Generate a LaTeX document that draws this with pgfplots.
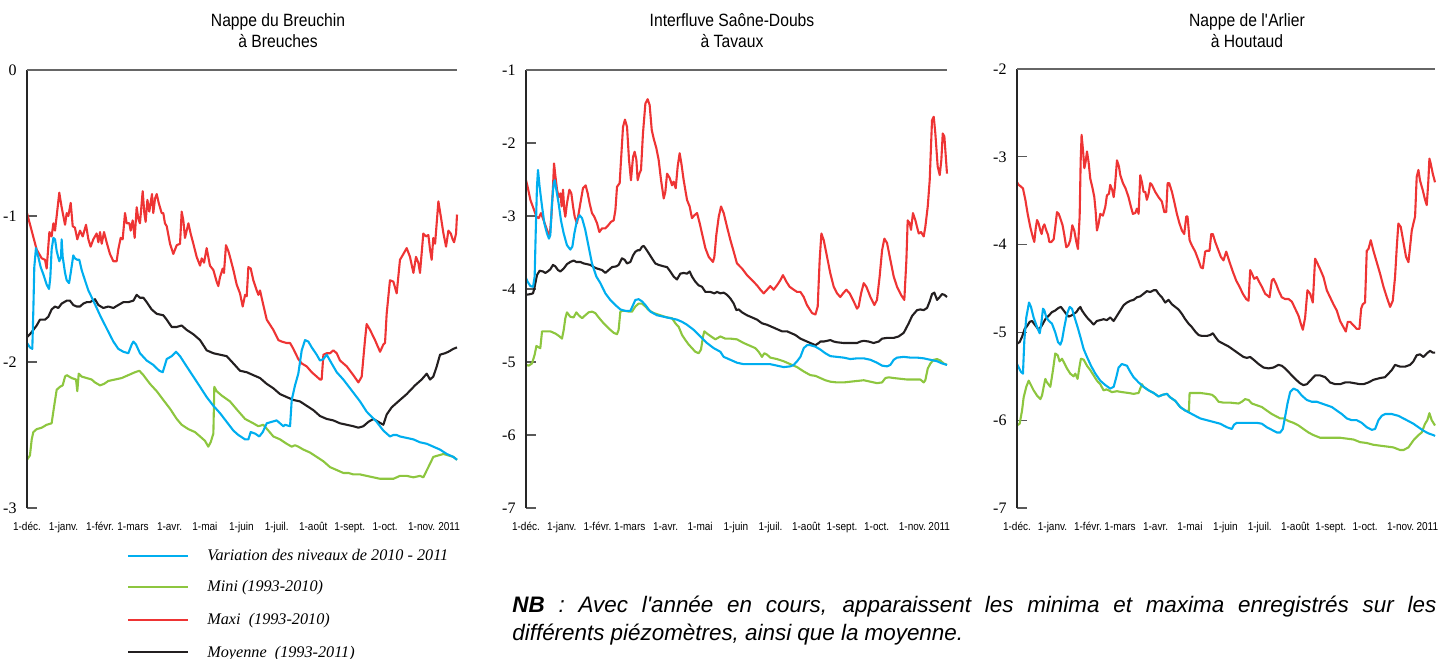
\documentclass[border=0pt]{standalone}
\usepackage{pgfplots}
\pgfplotsset{compat=1.18}
\usepackage{fontspec}
\setmainfont{Liberation Sans}
\newfontfamily\condsans[FakeStretch=0.88]{Liberation Sans}
\newfontfamily\tnr{Liberation Serif}

\definecolor{cblue}{RGB}{0,174,239}
\definecolor{cgreen}{RGB}{141,198,63}
\definecolor{cred}{RGB}{238,52,52}
\definecolor{cblack}{RGB}{35,31,32}

% one style for the three piezometer panels (x = days from 1 Dec 2010)
\pgfplotsset{
  piezo/.style={
    scale only axis, height=219pt,
    xmin=0, xmax=365,
    clip=false,
    axis line style={draw=none},
    tick align=inside, ytick pos=left,
    major tick length=5pt,
    xtick style={draw=none},
    ytick style={draw=black!65, line width=0.6pt},
    xtick={0,31,62,90,121,151,182,212,243,274,304,335},
    xticklabels={1-déc.,1-janv.,1-févr.,1-mars,1-avr.,1-mai,1-juin,1-juil.,1-août,1-sept.,1-oct.,1-nov.},
    extra x ticks={358.3}, extra x tick labels={2011},
    extra x tick style={tick style={draw=none}},
    xticklabel style={font=\condsans\fontsize{5.7}{6}\selectfont, anchor=base, yshift=-11.3pt},
    yticklabel style={font=\tnr\fontsize{8}{9}\selectfont, anchor=east, xshift=-1.7pt},
    every axis plot/.append style={line width=1.05pt, line join=round},
  },
}
\newcommand{\framelines}{%
  \draw[black!85, line width=0.8pt] (rel axis cs:0,0) -- (rel axis cs:0,1);
  \draw[black!60, line width=0.7pt] (rel axis cs:0,1) -- (rel axis cs:1,1);}

\begin{document}
\begin{tikzpicture}
\useasboundingbox (0,0) rectangle (719.5pt,329pt);

% ---------- Nappe du Breuchin ----------
\begin{axis}[piezo, width=215pt, at={(13.5pt,294pt)}, anchor=north west,
  ymin=-3, ymax=0, ytick={-3,-2,-1,0}, yticklabels={-3,-2,-1,0}]
\addplot[cgreen] coordinates {
(0,-2.67) (2.5,-2.64) (4,-2.53) (5.4,-2.48) (8.2,-2.46) (12.5,-2.45) (16.7,-2.43) (20.9,-2.42) (22.9,-2.31) (25.2,-2.19) (28,-2.17) (30.3,-2.16) (32.3,-2.10) (33.7,-2.09) (37.9,-2.11) (41.6,-2.12) (42.7,-2.20) (43.9,-2.08) (46.4,-2.10) (50.7,-2.11) (54.9,-2.12) (57.7,-2.14) (62,-2.16) (65.4,-2.15) (69,-2.13) (74.7,-2.12) (80.4,-2.11) (86,-2.09) (91.7,-2.07) (95.4,-2.06) (98.8,-2.09) (104.4,-2.15) (110.1,-2.20) (115.7,-2.26) (121.4,-2.32) (127.1,-2.39) (131.3,-2.43) (137,-2.46) (142.6,-2.48) (146.9,-2.51) (151.1,-2.54) (153.9,-2.58) (155.9,-2.55) (158.2,-2.49) (159,-2.17) (161,-2.20) (165.3,-2.23) (172.3,-2.27) (178.6,-2.33) (185.1,-2.39) (192.1,-2.42) (196.4,-2.44) (200.6,-2.43) (204.9,-2.47) (209.1,-2.51) (214.8,-2.53) (220.4,-2.56) (224.7,-2.58) (227.5,-2.57) (230.3,-2.58) (234.6,-2.60) (240.2,-2.62) (245.9,-2.65) (251.6,-2.68) (257.2,-2.72) (262.9,-2.74) (268.5,-2.76) (272.8,-2.76) (277,-2.77) (282.7,-2.77) (288.3,-2.78) (294,-2.79) (299.7,-2.80) (305.3,-2.80) (311,-2.80) (316.6,-2.78) (322.3,-2.78) (328,-2.79) (333.6,-2.78) (336.4,-2.79) (340.7,-2.72) (344.9,-2.65) (349.2,-2.64) (353.5,-2.63) (357.7,-2.64) (361.9,-2.65) (365,-2.67)
};
\addplot[cred] coordinates {
(0,-0.98) (8.2,-1.23) (12.5,-1.29) (15.3,-1.30) (16.7,-1.36) (19,-1.11) (20.9,-1.14) (22.4,-1.05) (23.8,-1.10) (27.4,-0.84) (29.4,-0.94) (32.3,-1.06) (33.7,-0.98) (35.1,-1.00) (37.1,-0.91) (38.8,-1.07) (40.7,-1.08) (42.7,-1.16) (45,-1.10) (47.3,-1.14) (50.1,-1.06) (52.1,-1.16) (54,-1.21) (56.3,-1.16) (59.1,-1.12) (60.6,-1.18) (62,-1.11) (63.4,-1.19) (65.4,-1.11) (67.6,-1.18) (70.4,-1.26) (73.3,-1.31) (76.1,-1.31) (77.5,-1.23) (79.5,-1.15) (81.2,-1.16) (83.2,-0.98) (84.6,-1.05) (86.9,-1.05) (88,-1.10) (89.7,-1.03) (91.4,-1.15) (93.1,-0.94) (94.5,-1.02) (95.9,-1.05) (98.2,-0.83) (99.6,-0.98) (100.7,-1.04) (102.2,-0.89) (103.8,-0.97) (106.1,-0.85) (107.2,-0.98) (108.7,-0.88) (110.1,-0.85) (111.8,-0.91) (114.3,-0.98) (115.7,-0.98) (117.1,-1.05) (118.6,-1.07) (121.4,-1.19) (124.2,-1.26) (127.1,-1.20) (129.9,-1.19) (131.3,-0.97) (132.7,-1.03) (134.1,-1.15) (137,-1.05) (138.9,-1.12) (141.2,-1.19) (144,-1.28) (146.9,-1.34) (148.3,-1.29) (150.3,-1.32) (152.5,-1.22) (153.9,-1.28) (155.3,-1.34) (158.2,-1.37) (161,-1.45) (162.4,-1.48) (163.8,-1.42) (166.1,-1.36) (167.2,-1.39) (168.9,-1.20) (170.9,-1.24) (172.3,-1.28) (175.2,-1.37) (178,-1.47) (180.8,-1.53) (183.1,-1.62) (185.1,-1.54) (186.5,-1.55) (187.9,-1.35) (189.9,-1.36) (192.1,-1.44) (195,-1.51) (196.4,-1.54) (197.8,-1.51) (200.6,-1.61) (203.5,-1.71) (209.1,-1.78) (213.4,-1.85) (216.2,-1.86) (220.4,-1.87) (223.3,-1.87) (226.1,-1.91) (230.3,-1.98) (233.2,-2.01) (237.4,-2.03) (241.7,-2.07) (244.5,-2.09) (248.7,-2.12) (250.1,-2.12) (251.6,-1.95) (254.4,-1.94) (257.2,-1.94) (260,-1.92) (262.9,-1.94) (265.7,-1.99) (271.4,-2.03) (277,-2.09) (281.3,-2.14) (284.1,-2.10) (286.9,-1.85) (288.3,-1.74) (291.2,-1.78) (295.4,-1.85) (299.7,-1.93) (302.5,-1.88) (303.9,-1.87) (305.3,-1.67) (308.1,-1.44) (311,-1.45) (313.8,-1.53) (316.6,-1.30) (319.5,-1.26) (322.3,-1.22) (325.1,-1.28) (328,-1.39) (330.2,-1.28) (332.2,-1.32) (333.6,-1.39) (336.4,-1.12) (338.7,-1.14) (340.7,-1.13) (342.1,-1.23) (343.5,-1.30) (344.9,-1.15) (346.4,-1.19) (349.2,-0.90) (351.2,-1.00) (353.5,-1.12) (355.7,-1.21) (357.7,-1.10) (359.7,-1.12) (361.3,-1.16) (362.5,-1.18) (364.2,-1.12) (365,-0.99)
};
\addplot[cblack] coordinates {
(0,-1.83) (2.5,-1.81) (5.4,-1.78) (8.2,-1.75) (11,-1.71) (15.3,-1.71) (18.1,-1.69) (20.9,-1.64) (23.8,-1.62) (26.6,-1.63) (29.4,-1.60) (33.7,-1.58) (36.5,-1.58) (39.3,-1.61) (42.2,-1.62) (45,-1.62) (47.8,-1.60) (50.7,-1.59) (53.5,-1.59) (57.7,-1.57) (60.6,-1.61) (64.8,-1.63) (69,-1.62) (73.3,-1.63) (77.5,-1.61) (81.8,-1.59) (86,-1.59) (90.3,-1.58) (93.1,-1.54) (95.9,-1.56) (98.8,-1.56) (101.6,-1.59) (105.8,-1.64) (110.1,-1.67) (115.7,-1.68) (118.6,-1.71) (122.8,-1.76) (127.1,-1.76) (131.3,-1.75) (135.5,-1.78) (141.2,-1.81) (146.9,-1.85) (152.5,-1.92) (158.2,-1.94) (163.8,-1.95) (169.5,-1.96) (175.2,-2.01) (180.8,-2.06) (186.5,-2.07) (192.1,-2.09) (197.8,-2.11) (203.5,-2.15) (209.1,-2.18) (214.8,-2.22) (220.4,-2.24) (226.1,-2.26) (231.7,-2.27) (237.4,-2.30) (243.1,-2.33) (248.7,-2.37) (254.4,-2.39) (260,-2.40) (265.7,-2.42) (271.4,-2.43) (277,-2.44) (281.3,-2.45) (285.5,-2.44) (289.8,-2.41) (294,-2.39) (298.2,-2.41) (302.5,-2.43) (305.3,-2.36) (309.6,-2.31) (316.6,-2.26) (322.3,-2.22) (329.4,-2.16) (335,-2.12) (339.3,-2.08) (342.1,-2.12) (344.9,-2.10) (347.8,-2.03) (350.6,-1.95) (354.8,-1.94) (357.7,-1.93) (361.9,-1.91) (365,-1.90)
};
\addplot[cblue] coordinates {
(0,-1.87) (2.5,-1.90) (4.5,-1.91) (5.4,-1.64) (6.2,-1.35) (7.6,-1.22) (9.6,-1.28) (11.6,-1.35) (13.9,-1.40) (16.7,-1.47) (18.7,-1.50) (19.8,-1.42) (20.9,-1.23) (22.4,-1.15) (23.8,-1.16) (25.2,-1.24) (27.4,-1.31) (28.9,-1.28) (29.4,-1.16) (30.3,-1.28) (32.3,-1.39) (33.7,-1.44) (35.7,-1.46) (37.1,-1.39) (39.3,-1.27) (40.7,-1.29) (42.7,-1.30) (44.4,-1.30) (46.4,-1.37) (49.2,-1.44) (52.1,-1.51) (56.3,-1.58) (62,-1.68) (67.6,-1.77) (73.3,-1.86) (77.5,-1.91) (81.8,-1.93) (86,-1.94) (88.9,-1.88) (90.3,-1.86) (92.5,-1.88) (95.9,-1.94) (101.6,-1.99) (107.2,-2.02) (112.3,-2.06) (115.2,-2.07) (117.1,-2.02) (118.6,-1.98) (122.8,-1.96) (126.5,-1.93) (129.9,-1.96) (135.5,-2.03) (141.2,-2.10) (146.9,-2.17) (152.5,-2.24) (158.2,-2.30) (163.8,-2.35) (169.5,-2.41) (175.2,-2.47) (179.4,-2.50) (185.1,-2.53) (187.9,-2.53) (189.9,-2.48) (193.5,-2.49) (197.2,-2.51) (200.1,-2.48) (203.5,-2.42) (207.7,-2.41) (211.9,-2.40) (214.8,-2.42) (217.6,-2.44) (219,-2.43) (223.3,-2.44) (224.7,-2.26) (227.5,-2.16) (230.3,-2.08) (233.2,-1.92) (236,-1.85) (238.8,-1.86) (241.7,-1.90) (245.9,-1.95) (248.7,-1.99) (251.6,-1.98) (254.4,-1.95) (258.6,-2.01) (262.9,-2.07) (268.5,-2.12) (274.2,-2.18) (282.7,-2.27) (288.3,-2.34) (296.8,-2.41) (302.5,-2.47) (308.1,-2.51) (311,-2.50) (313.8,-2.50) (316.6,-2.51) (322.3,-2.52) (328,-2.53) (333.6,-2.55) (339.3,-2.56) (344.9,-2.58) (350.6,-2.60) (356.3,-2.63) (361.9,-2.65) (365,-2.67)
};
\framelines
\end{axis}

% ---------- Interfluve Saone-Doubs ----------
\begin{axis}[piezo, width=210.5pt, at={(263pt,294pt)}, anchor=north west,
  ymin=-7, ymax=-1, ytick={-7,-6,-5,-4,-3,-2,-1}, yticklabels={-7,-6,-5,-4,-3,-2,-1}]
\addplot[cgreen] coordinates {
(0,-5.04) (2.3,-5.05) (5.2,-5.02) (7.5,-4.90) (9,-4.78) (11,-4.80) (12.4,-4.81) (13.9,-4.58) (16.8,-4.58) (21.1,-4.58) (25.4,-4.61) (28.3,-4.64) (31.2,-4.68) (32.7,-4.56) (34.1,-4.40) (35.5,-4.32) (38.4,-4.38) (41.3,-4.39) (43.6,-4.32) (45.7,-4.36) (48.6,-4.40) (51.4,-4.36) (54.3,-4.32) (57.2,-4.31) (60.1,-4.33) (63,-4.39) (67.3,-4.47) (71.7,-4.54) (76,-4.60) (78.9,-4.62) (80.3,-4.56) (81.8,-4.31) (83.2,-4.30) (86.1,-4.30) (89,-4.31) (91.9,-4.31) (94.8,-4.24) (97.7,-4.20) (100.6,-4.20) (103.5,-4.24) (106.4,-4.29) (110.7,-4.33) (116.5,-4.36) (122.3,-4.39) (126.6,-4.40) (129.5,-4.47) (132.4,-4.52) (135.3,-4.63) (138.2,-4.70) (141,-4.76) (143.9,-4.81) (146.8,-4.86) (149.7,-4.88) (151.7,-4.83) (153.5,-4.65) (154.6,-4.58) (156.9,-4.61) (160.4,-4.65) (164.2,-4.69) (168.5,-4.65) (172.8,-4.68) (177.2,-4.68) (182.9,-4.69) (188.7,-4.74) (194.5,-4.78) (198.8,-4.81) (201.7,-4.86) (204.6,-4.93) (206.6,-4.88) (209,-4.90) (211.8,-4.94) (217.6,-4.96) (223.4,-4.99) (229.2,-5.03) (235,-5.07) (240.8,-5.13) (246.5,-5.18) (250.9,-5.19) (255.2,-5.22) (259.5,-5.25) (263.9,-5.27) (269.7,-5.28) (275.4,-5.28) (281.2,-5.27) (287,-5.26) (292.8,-5.25) (298.6,-5.27) (304.3,-5.29) (308.7,-5.28) (311.6,-5.22) (314.5,-5.21) (318.8,-5.22) (324.6,-5.23) (330.3,-5.24) (336.1,-5.24) (341.9,-5.24) (344.8,-5.28) (346.2,-5.25) (348.3,-5.09) (350.6,-5.02) (353.5,-4.97) (356.4,-4.96) (359.2,-4.98) (362.1,-5.02) (365,-5.04)
};
\addplot[cred] coordinates {
(0,-2.51) (1.4,-2.60) (3.8,-2.78) (6.6,-2.90) (9,-3.01) (11,-3.03) (13,-2.96) (15.3,-3.06) (18.2,-3.19) (20.5,-3.28) (22,-3.01) (23.4,-2.60) (24.3,-2.28) (25.4,-2.44) (26.9,-2.64) (28.3,-2.74) (29.8,-2.69) (30.9,-2.87) (32.1,-2.64) (33.2,-2.92) (34.1,-3.01) (35.5,-2.83) (37.6,-2.64) (39.3,-2.69) (40.8,-2.87) (42.2,-3.01) (44.2,-3.10) (47.1,-2.83) (49.4,-2.62) (51.7,-2.58) (53.5,-2.69) (55.2,-2.83) (57.2,-2.96) (59.2,-3.01) (61.6,-3.10) (63.6,-3.22) (65.9,-3.17) (68.8,-3.17) (71.7,-3.12) (73.7,-3.08) (76,-3.06) (77.5,-2.92) (78.9,-2.60) (81.2,-2.55) (82.4,-2.23) (84.1,-1.78) (85.8,-1.68) (87.6,-1.78) (89.3,-2.23) (91,-2.51) (92.8,-2.19) (94.2,-2.12) (95.7,-2.23) (96.8,-2.51) (98.3,-2.42) (99.7,-2.37) (101.4,-1.87) (103.5,-1.46) (105.5,-1.40) (107.2,-1.48) (109,-1.82) (110.7,-1.94) (113,-2.07) (115,-2.23) (117.1,-2.51) (119.4,-2.76) (120.8,-2.67) (122.3,-2.42) (124.6,-2.48) (126.6,-2.58) (128,-2.53) (129.8,-2.62) (131.5,-2.32) (133.2,-2.14) (134.7,-2.28) (136.7,-2.51) (139.6,-2.78) (141.9,-2.87) (143.9,-3.03) (146,-2.99) (148.3,-2.96) (150.6,-3.10) (152.6,-3.24) (155.5,-3.44) (158.4,-3.56) (162.1,-3.63) (163.3,-3.56) (165,-3.26) (167.1,-3.01) (169.1,-2.87) (171.4,-2.96) (174.3,-3.15) (177.2,-3.33) (180.1,-3.49) (182.9,-3.65) (187.3,-3.72) (191.6,-3.81) (196,-3.88) (200.3,-3.95) (203.2,-4.01) (206.1,-4.06) (209,-4.01) (211.8,-3.96) (214.7,-4.01) (217.6,-3.95) (220.5,-3.88) (222.8,-3.81) (225.7,-3.90) (228.6,-3.97) (232.1,-4.01) (235,-4.04) (237.9,-4.04) (240.8,-4.11) (243.6,-4.22) (246,-4.28) (248,-4.33) (250.9,-4.35) (252.9,-4.24) (254.6,-3.60) (256.1,-3.24) (258.1,-3.33) (261,-3.56) (263.9,-3.79) (266.8,-3.97) (269.7,-4.06) (272.5,-4.11) (274.9,-4.06) (277.7,-4.01) (280.6,-4.06) (284.1,-4.17) (287,-4.27) (288.4,-4.24) (290.5,-4.06) (292.8,-3.92) (295.1,-3.97) (298.6,-4.11) (302,-4.22) (304.3,-4.15) (306.6,-3.83) (308.7,-3.47) (310.7,-3.31) (313,-3.37) (315.9,-3.60) (318.8,-3.83) (321.7,-3.97) (325.1,-4.08) (328,-4.15) (329.8,-3.60) (330.9,-3.06) (332.7,-3.10) (333.8,-3.19) (335.5,-2.96) (337.6,-3.06) (339,-3.15) (340.5,-3.24) (342.5,-3.22) (344.8,-3.28) (346.2,-3.15) (348.3,-2.87) (350,-2.51) (352,-1.69) (353.5,-1.64) (354.9,-1.87) (356.9,-2.32) (358.7,-2.44) (360.1,-2.23) (361.3,-1.87) (362.7,-1.91) (365,-2.42)
};
\addplot[cblack] coordinates {
(0,-4.08) (3.8,-4.07) (6.1,-4.06) (7.5,-3.97) (9.5,-3.81) (11.8,-3.75) (14.7,-3.76) (16.8,-3.78) (18.8,-3.76) (21.1,-3.73) (23.4,-3.67) (25.4,-3.69) (27.7,-3.74) (29.8,-3.76) (32.7,-3.72) (35.5,-3.66) (38.4,-3.63) (41.3,-3.61) (43.6,-3.63) (47.1,-3.63) (50,-3.65) (52.9,-3.66) (55.8,-3.67) (58.7,-3.70) (61.6,-3.72) (65.9,-3.74) (68.8,-3.78) (71.7,-3.74) (74.6,-3.70) (78.3,-3.69) (80.3,-3.67) (83.2,-3.58) (85.5,-3.60) (87.6,-3.65) (90.5,-3.63) (92.8,-3.54) (94.8,-3.49) (96.8,-3.47) (98.6,-3.47) (100.6,-3.42) (102,-3.41) (103.5,-3.44) (106.4,-3.51) (109.2,-3.58) (112.1,-3.65) (115,-3.67) (119.4,-3.69) (122.3,-3.70) (125.1,-3.76) (128,-3.83) (130.9,-3.87) (133.8,-3.79) (136.7,-3.78) (139.6,-3.79) (141.9,-3.76) (143.9,-3.83) (146.8,-3.90) (149.7,-3.95) (152.6,-3.97) (155.5,-4.04) (159.8,-4.04) (163.3,-4.06) (165.6,-4.04) (168.5,-4.06) (171.4,-4.05) (174.3,-4.08) (177.2,-4.13) (180.1,-4.20) (182.4,-4.29) (184.4,-4.28) (187.3,-4.32) (191.6,-4.36) (196,-4.39) (200.3,-4.42) (204.6,-4.47) (208.9,-4.49) (213.3,-4.52) (217.6,-4.55) (222,-4.58) (226.3,-4.58) (230.6,-4.61) (233.5,-4.63) (237.9,-4.68) (242.2,-4.71) (246.5,-4.74) (250.9,-4.77) (253.8,-4.74) (255.2,-4.72) (258.1,-4.72) (261,-4.71) (263.9,-4.70) (266.8,-4.72) (269.7,-4.73) (275.4,-4.74) (281.2,-4.74) (287,-4.74) (289.9,-4.72) (292.8,-4.71) (297.1,-4.72) (301.4,-4.74) (305.8,-4.72) (308.7,-4.68) (313,-4.67) (318.8,-4.67) (323.1,-4.65) (327.5,-4.60) (331.8,-4.47) (334.7,-4.37) (339,-4.29) (341.9,-4.28) (344.8,-4.29) (347.7,-4.26) (350,-4.17) (352,-4.07) (354,-4.05) (356.4,-4.15) (358.7,-4.11) (360.7,-4.07) (362.7,-4.08) (365,-4.11)
};
\addplot[cblue] coordinates {
(0,-3.85) (1.4,-3.90) (3.8,-3.96) (6.1,-3.97) (7.5,-3.83) (8.4,-3.24) (9.5,-2.60) (10.4,-2.37) (11.8,-2.60) (13.9,-2.87) (15.9,-3.10) (18.2,-3.24) (19.9,-3.31) (21.1,-3.26) (22.5,-2.83) (24,-2.55) (24.9,-2.51) (26.3,-2.64) (28.3,-2.83) (30.3,-3.06) (32.7,-3.24) (35.5,-3.40) (38.4,-3.46) (40.2,-3.42) (41.9,-3.24) (44.2,-3.06) (46.5,-2.99) (48.6,-3.03) (51.4,-3.19) (54.3,-3.42) (57.2,-3.65) (61,-3.83) (64.5,-3.92) (68.8,-4.06) (73.1,-4.15) (77.5,-4.22) (81.8,-4.28) (86.1,-4.30) (90.5,-4.30) (92.8,-4.22) (94.8,-4.15) (97.7,-4.14) (100.6,-4.17) (103.5,-4.22) (107.8,-4.31) (113.6,-4.36) (119.4,-4.38) (125.1,-4.40) (130.9,-4.42) (135.3,-4.45) (139.6,-4.49) (145.4,-4.56) (151.2,-4.65) (156.9,-4.74) (162.7,-4.81) (168.5,-4.86) (171.4,-4.93) (177.2,-4.97) (182.9,-5.01) (188.7,-5.03) (194.5,-5.03) (200.3,-5.03) (206.1,-5.03) (211.8,-5.03) (217.6,-5.05) (223.4,-5.07) (229.2,-5.06) (232.1,-5.04) (235,-4.99) (237.9,-4.93) (240.8,-4.81) (243.6,-4.77) (246.5,-4.77) (250.9,-4.79) (255.2,-4.83) (259.5,-4.88) (263.9,-4.92) (269.7,-4.93) (275.4,-4.94) (281.2,-4.96) (287,-4.95) (292.8,-4.95) (298.6,-4.97) (304.3,-5.01) (308.7,-5.05) (313,-5.06) (315.9,-5.04) (318.8,-4.97) (321.7,-4.94) (327.5,-4.93) (333.2,-4.94) (339,-4.94) (344.8,-4.95) (350.6,-4.97) (356.4,-4.99) (360.7,-5.02) (365,-5.04)
};
\framelines
\end{axis}

% ---------- Nappe de l'Arlier ----------
\begin{axis}[piezo, width=209pt, at={(508.5pt,294.5pt)}, anchor=north west, height=219.5pt,
  ymin=-7, ymax=-2, ytick={-7,-6,-5,-4,-3,-2}, yticklabels={-7,-6,-5,-4,-3,-2}]
\addplot[cgreen] coordinates {
(0,-6.06) (2.3,-6.04) (4.4,-5.89) (5.8,-5.74) (8.1,-5.62) (10.2,-5.55) (12.2,-5.60) (14.5,-5.66) (17.5,-5.72) (20.4,-5.76) (21.8,-5.72) (23.3,-5.62) (24.7,-5.53) (26.2,-5.57) (29.1,-5.62) (31.4,-5.43) (33.4,-5.24) (35.5,-5.26) (37.2,-5.33) (39.3,-5.30) (41.3,-5.35) (43.6,-5.41) (46.5,-5.47) (49.4,-5.50) (50.9,-5.47) (52.9,-5.53) (54.7,-5.38) (55.8,-5.30) (58.2,-5.31) (61.1,-5.38) (64,-5.43) (66.9,-5.49) (69.8,-5.55) (72.7,-5.59) (75.6,-5.66) (78,-5.65) (80,-5.66) (82.9,-5.68) (87.3,-5.67) (91.6,-5.68) (97.4,-5.69) (101.8,-5.70) (106.2,-5.69) (107.6,-5.64) (109.1,-5.59) (110.5,-5.62) (114.9,-5.66) (119.3,-5.69) (123.6,-5.73) (127.4,-5.71) (130.9,-5.70) (133.8,-5.74) (138.2,-5.78) (142.5,-5.85) (146.9,-5.89) (150.1,-5.90) (150.7,-5.69) (154.2,-5.69) (160,-5.69) (165.8,-5.70) (170.2,-5.71) (173.1,-5.74) (176,-5.79) (180.3,-5.80) (186.2,-5.80) (193.4,-5.81) (196.3,-5.79) (199.2,-5.76) (202.2,-5.77) (205.1,-5.81) (209.4,-5.83) (213.8,-5.85) (218.1,-5.89) (222.5,-5.93) (226.9,-5.96) (229.8,-5.98) (232.7,-5.98) (237.1,-6.01) (241.4,-6.03) (245.8,-6.06) (250.1,-6.10) (254.5,-6.14) (258.9,-6.17) (264.7,-6.20) (270.5,-6.20) (276.3,-6.20) (282.1,-6.20) (288,-6.21) (293.8,-6.22) (299.6,-6.25) (305.4,-6.26) (311.2,-6.28) (317,-6.29) (322.9,-6.30) (328.7,-6.31) (334.5,-6.34) (337.4,-6.34) (341.8,-6.31) (346.1,-6.23) (350.5,-6.17) (353.4,-6.14) (356.3,-6.04) (358.3,-6.00) (360.1,-5.92) (362.1,-6.00) (365,-6.06)
};
\addplot[cred] coordinates {
(0,-3.29) (1.5,-3.32) (3.5,-3.34) (5.2,-3.36) (7.3,-3.49) (9.3,-3.65) (11.6,-3.80) (13.7,-3.91) (15.1,-3.97) (16.3,-3.82) (17.5,-3.72) (18.9,-3.76) (20.4,-3.84) (21.5,-3.88) (22.7,-3.80) (23.9,-3.77) (25.6,-3.84) (27.1,-3.89) (28.2,-3.97) (30,-3.97) (32,-3.94) (33.4,-3.80) (34.9,-3.63) (36.4,-3.65) (37.8,-3.70) (39.8,-3.78) (41.3,-3.89) (43,-4.03) (44.8,-4.01) (46.5,-3.95) (48.3,-3.78) (50,-3.84) (51.8,-3.97) (53.2,-4.05) (54.7,-3.68) (55.6,-3.04) (56.4,-2.75) (57.6,-2.92) (58.8,-3.13) (59.9,-3.06) (61.1,-2.94) (62.5,-3.06) (64,-3.25) (66,-3.36) (67.5,-3.46) (68.6,-3.61) (69.8,-3.84) (71.3,-3.76) (72.7,-3.65) (75,-3.67) (77.1,-3.57) (78.5,-3.44) (80.3,-3.42) (81.4,-3.32) (83.2,-3.38) (84.4,-3.46) (85.5,-3.34) (87.3,-3.04) (89,-3.11) (90.2,-3.21) (92.5,-3.30) (94.8,-3.36) (97.4,-3.46) (99.5,-3.57) (101.2,-3.65) (103.3,-3.64) (104.7,-3.59) (106.2,-3.65) (107.6,-3.21) (109.1,-3.29) (110.5,-3.40) (112,-3.40) (113.4,-3.49) (114.9,-3.42) (116.3,-3.30) (117.8,-3.32) (120.7,-3.40) (123.6,-3.46) (126.5,-3.51) (128.6,-3.63) (130.3,-3.63) (131.5,-3.30) (132.9,-3.30) (135.3,-3.40) (137.6,-3.53) (139.6,-3.65) (141.9,-3.76) (144,-3.84) (146,-3.88) (147.8,-3.68) (148.9,-3.68) (150.7,-3.95) (152.7,-4.01) (155.6,-4.08) (158.5,-4.18) (160.6,-4.26) (162.3,-4.27) (164.3,-4.08) (165.8,-4.07) (168.1,-4.07) (169.6,-3.88) (171,-3.88) (173.1,-3.97) (176,-4.07) (178,-4.14) (180.3,-4.18) (182.7,-4.08) (185.6,-4.20) (188.5,-4.31) (191.4,-4.41) (194.3,-4.48) (197.2,-4.56) (200.1,-4.62) (202.2,-4.64) (203.6,-4.29) (205.1,-4.33) (207.1,-4.39) (209.4,-4.37) (211.7,-4.43) (213.8,-4.48) (216.7,-4.56) (218.7,-4.58) (220.5,-4.60) (222.5,-4.41) (224,-4.39) (226.3,-4.45) (228.3,-4.52) (231.2,-4.60) (234.1,-4.62) (237.1,-4.62) (240,-4.65) (242.9,-4.73) (245.8,-4.81) (247.8,-4.90) (249.6,-4.97) (251.6,-4.83) (253.6,-4.52) (256,-4.56) (258.3,-4.66) (260.3,-4.16) (261.8,-4.20) (264.7,-4.28) (267.6,-4.37) (270.5,-4.52) (273.4,-4.60) (276.3,-4.68) (279.2,-4.75) (282.1,-4.87) (285,-4.94) (287.1,-4.99) (288.8,-4.88) (290.9,-4.88) (293.8,-4.92) (296.7,-4.96) (299,-4.96) (300.5,-4.73) (301.9,-4.68) (303.9,-4.66) (305.4,-4.07) (306.9,-4.05) (308.9,-3.95) (311.2,-4.07) (314.1,-4.20) (317,-4.33) (320,-4.48) (322.9,-4.60) (325.8,-4.71) (328.1,-4.64) (330.1,-4.37) (331.6,-4.03) (333,-3.76) (335.1,-3.80) (337.4,-3.97) (339.7,-4.14) (341.8,-4.20) (343.2,-4.03) (344.7,-3.84) (346.1,-3.76) (347.6,-3.68) (349,-3.23) (350.5,-3.15) (351.9,-3.27) (354.3,-3.38) (356.3,-3.49) (357.8,-3.55) (359.2,-3.27) (360.1,-3.02) (361.3,-3.08) (363,-3.19) (365,-3.29)
};
\addplot[cblack] coordinates {
(0,-5.13) (2.3,-5.11) (4.4,-5.05) (6.7,-4.96) (8.7,-4.93) (11.1,-4.88) (13.1,-4.87) (16,-4.92) (18.9,-4.97) (21.8,-4.92) (24.7,-4.85) (27.6,-4.81) (30.5,-4.77) (33.4,-4.75) (36.4,-4.72) (38.4,-4.71) (40.7,-4.75) (43,-4.79) (45.1,-4.82) (47.1,-4.81) (49.4,-4.79) (51.8,-4.77) (53.8,-4.73) (55.3,-4.71) (56.7,-4.75) (58.8,-4.79) (61.1,-4.83) (64,-4.87) (66.9,-4.91) (69.8,-4.87) (72.7,-4.86) (75.6,-4.85) (78.5,-4.86) (81.4,-4.83) (84.4,-4.87) (87.3,-4.81) (90.2,-4.75) (93.1,-4.69) (96,-4.66) (98.9,-4.64) (101.8,-4.63) (104.7,-4.60) (107.6,-4.59) (110.5,-4.56) (113.4,-4.53) (116.3,-4.54) (119.3,-4.52) (121.6,-4.52) (123.6,-4.56) (126.5,-4.60) (129.4,-4.66) (132.3,-4.63) (135.3,-4.68) (138.2,-4.71) (141.1,-4.74) (144,-4.79) (146.9,-4.85) (149.8,-4.90) (152.7,-4.94) (155.6,-4.99) (158.5,-5.03) (161.4,-5.04) (165.8,-5.04) (168.7,-5.03) (171,-5.01) (173.1,-5.05) (176,-5.10) (180.3,-5.13) (184.7,-5.16) (189.1,-5.20) (193.4,-5.24) (197.8,-5.28) (200.7,-5.29) (203.6,-5.28) (206.5,-5.31) (210.9,-5.36) (215.2,-5.40) (219.6,-5.41) (224,-5.40) (228.3,-5.37) (231.2,-5.38) (234.1,-5.41) (238.5,-5.47) (242.9,-5.53) (247.2,-5.58) (250.1,-5.60) (253.1,-5.59) (256,-5.55) (260.3,-5.49) (264.7,-5.49) (269.1,-5.51) (273.4,-5.57) (277.8,-5.59) (282.1,-5.59) (286.5,-5.57) (290.9,-5.57) (295.2,-5.58) (299.6,-5.59) (302.5,-5.59) (306.9,-5.57) (311.2,-5.54) (317,-5.52) (321.4,-5.51) (324.3,-5.47) (327.2,-5.43) (330.1,-5.37) (334.5,-5.39) (338.9,-5.39) (343.2,-5.37) (346.1,-5.33) (349,-5.26) (351.9,-5.25) (354.9,-5.28) (357.8,-5.24) (360.7,-5.21) (363,-5.23) (365,-5.23)
};
\addplot[cblue] coordinates {
(0,-5.36) (1.5,-5.40) (3.5,-5.45) (5.2,-5.47) (6.4,-5.09) (8.1,-4.83) (10.5,-4.66) (12.2,-4.71) (14.5,-4.83) (17.5,-4.94) (19.8,-5.01) (21.2,-4.90) (22.7,-4.73) (23.9,-4.75) (25.6,-4.83) (27.9,-4.87) (30.5,-4.90) (33.4,-5.00) (35.8,-5.11) (37.8,-5.14) (39.3,-5.09) (41.3,-4.94) (43.6,-4.79) (46,-4.71) (48,-4.73) (50.3,-4.83) (52.9,-4.94) (55.3,-5.05) (58.2,-5.19) (61.1,-5.28) (64.6,-5.38) (68.4,-5.47) (72.7,-5.55) (77.1,-5.60) (81.4,-5.64) (84.4,-5.62) (86.7,-5.51) (88.7,-5.40) (91.6,-5.36) (96,-5.38) (98.9,-5.45) (101.8,-5.51) (106.2,-5.57) (110.5,-5.62) (114.9,-5.66) (119.3,-5.69) (123.6,-5.73) (127.4,-5.71) (130.9,-5.70) (133.8,-5.74) (138.2,-5.78) (142.5,-5.85) (146.9,-5.89) (151.3,-5.92) (155.6,-5.95) (160,-5.98) (165.8,-6.00) (171.6,-6.02) (177.4,-6.04) (183.2,-6.08) (187.6,-6.10) (189.6,-6.05) (192,-6.03) (197.8,-6.03) (203.6,-6.03) (209.4,-6.03) (213.8,-6.04) (218.1,-6.08) (222.5,-6.11) (226.9,-6.14) (229.8,-6.14) (232.1,-6.10) (234.1,-5.96) (236.2,-5.81) (238.5,-5.68) (241.4,-5.64) (244.9,-5.66) (248.7,-5.72) (253.1,-5.77) (257.4,-5.79) (261.8,-5.79) (266.1,-5.81) (270.5,-5.83) (274.9,-5.85) (279.2,-5.89) (283.6,-5.93) (288,-5.98) (292.3,-6.00) (296.7,-6.00) (301,-6.03) (305.4,-6.08) (309.8,-6.11) (312.7,-6.10) (315.6,-6.00) (318.5,-5.95) (321.4,-5.93) (327.2,-5.93) (333,-5.95) (337.4,-5.98) (341.8,-6.01) (346.1,-6.04) (350.5,-6.08) (354.9,-6.12) (359.2,-6.15) (363.6,-6.17) (365,-6.18)
};
\framelines
\end{axis}

% titles
\begin{scope}[every node/.style={font=\condsans\fontsize{8.9}{10}\selectfont, anchor=base, inner sep=0pt}]
\node at (139pt,315.5pt) {Nappe du Breuchin};
\node at (139pt,305pt) {à Breuches};
\node at (366pt,315.5pt) {Interfluve Saône-Doubs};
\node at (366pt,305pt) {à Tavaux};
\node at (623.5pt,315.5pt) {Nappe de l\textquotesingle Arlier};
\node at (623.5pt,305pt) {à Houtaud};
\end{scope}

% legend
\begin{scope}[every node/.style={font=\tnr\itshape\fontsize{8.1}{9}\selectfont, anchor=base west, inner sep=0pt}]
\draw[cblue, line width=1.1pt] (64pt,51pt) -- (94pt,51pt);
\node at (103.5pt,48.5pt) {Variation des niveaux de 2010 - 2011};
\draw[cgreen, line width=1.1pt] (64pt,35.5pt) -- (94pt,35.5pt);
\node at (103.5pt,33pt) {Mini (1993-2010)};
\draw[cred, line width=1.1pt] (64pt,19pt) -- (94pt,19pt);
\node at (103.5pt,16.5pt) {Maxi\ \ (1993-2010)};
\draw[cblack, line width=1.1pt] (64pt,3pt) -- (94pt,3pt);
\node at (103.5pt,0.5pt) {Moyenne\ \ (1993-2011)};
\end{scope}

% note
\begin{scope}[every node/.style={font=\itshape\fontsize{11.2}{14}\selectfont, anchor=base west, inner sep=0pt}]
\node at (256pt,23pt) {\makebox[462pt][s]{\textbf{NB} : Avec l\textquotesingle année en cours, apparaissent les minima et maxima enregistrés sur les}};
\node at (256pt,9pt) {différents piézomètres, ainsi que la moyenne.};
\end{scope}
\end{tikzpicture}
\end{document}
